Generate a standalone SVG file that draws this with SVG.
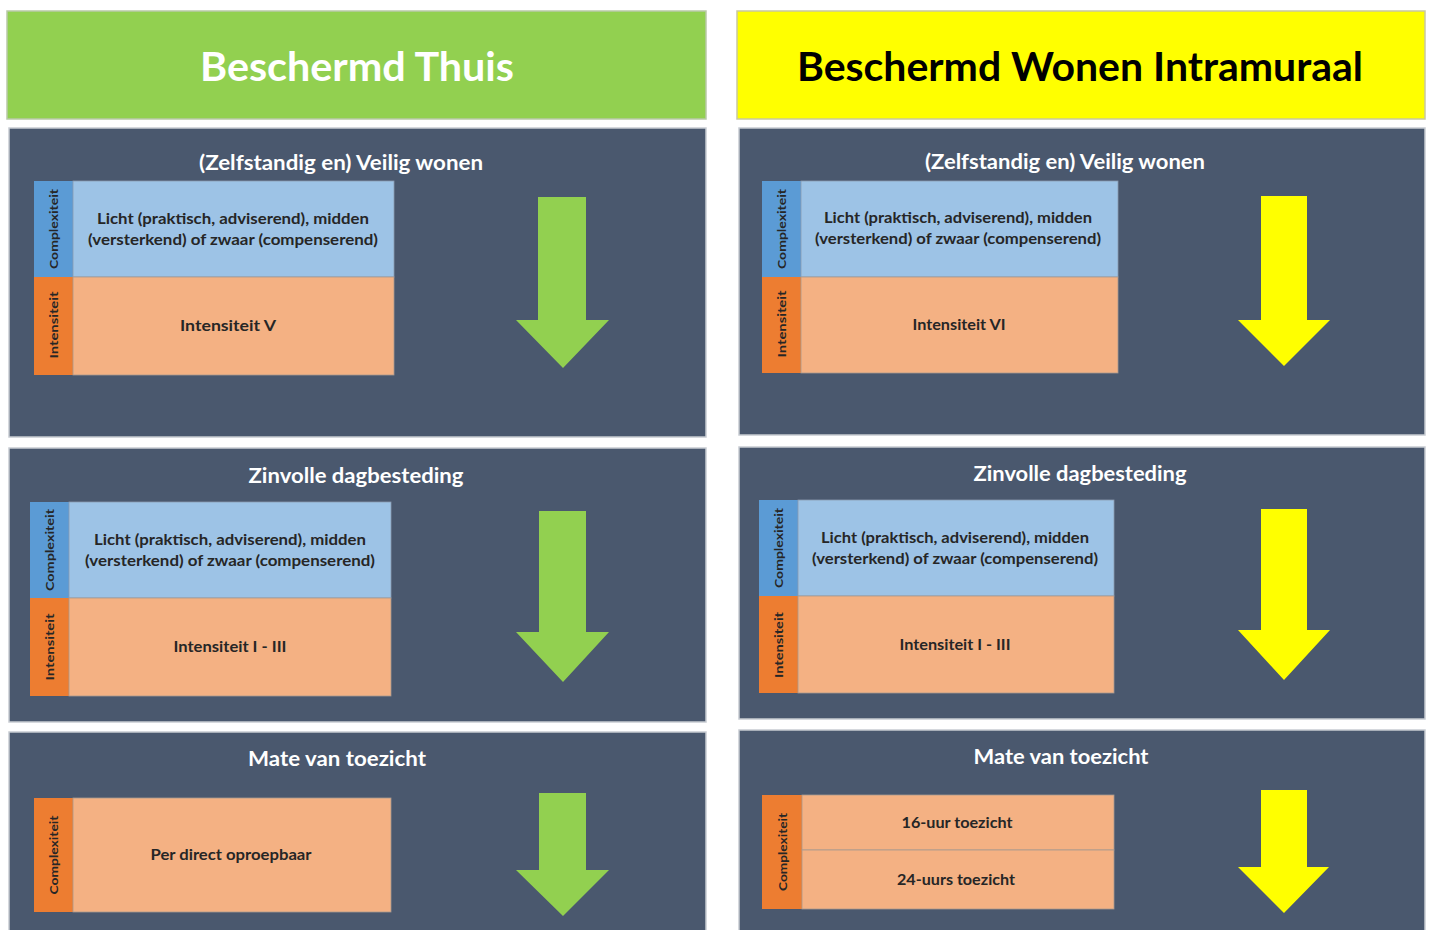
<svg xmlns="http://www.w3.org/2000/svg" width="1429" height="930" viewBox="0 0 1429 930">
<style>
.hdrG{fill:#92d050;stroke:#b9c9a8;stroke-width:1.5}
.hdrY{fill:#ffff00;stroke:#c9c9a0;stroke-width:1.5}
.hdrtxt{font-family:Lato,"Liberation Sans",sans-serif;font-weight:bold;font-size:40px;text-anchor:middle}
.panel{fill:#4a586e;stroke:#c8ccd2;stroke-width:1.5}
.ptitle{font-family:Lato,"Liberation Sans",sans-serif;font-weight:bold;font-size:20px;fill:#ffffff;text-anchor:middle}
.blue{fill:#9dc3e6;stroke:#8a9bb0;stroke-width:0.8}
.blueS{fill:#5b9bd5}
.org{fill:#f4b183;stroke:#a79a90;stroke-width:0.8}
.orgS{fill:#ed7d31}
.btxt{font-family:Lato,"Liberation Sans",sans-serif;font-weight:bold;font-size:14.5px;fill:#262626;text-anchor:middle}
.vtxt{font-family:Lato,"Liberation Sans",sans-serif;font-weight:bold;font-size:11px;fill:#262626;text-anchor:middle;dominant-baseline:central}
.arrG{fill:#92d050}
.arrY{fill:#ffff00}
</style>
<rect width="1429" height="930" fill="#ffffff"/>

<g id="header-thuis">
<rect class="hdrG" x="7" y="11" width="699" height="108"/>
<text class="hdrtxt" x="357" y="81" fill="#ffffff" textLength="314" lengthAdjust="spacingAndGlyphs">Beschermd Thuis</text>
</g>
<g id="header-intramuraal">
<rect class="hdrY" x="737" y="11" width="688" height="108"/>
<text class="hdrtxt" x="1080" y="81" fill="#000000" textLength="566" lengthAdjust="spacingAndGlyphs">Beschermd Wonen Intramuraal</text>
</g>

<!-- Left column -->
<g id="panel-l1">
<rect class="panel" x="9" y="128" width="697" height="309"/>
<text class="ptitle" x="341" y="170" textLength="284" lengthAdjust="spacingAndGlyphs">(Zelfstandig en) Veilig wonen</text>
<rect class="blueS" x="34" y="181" width="39" height="96"/>
<rect class="blue" x="73" y="181" width="321" height="96"/>
<rect class="orgS" x="34" y="277" width="39" height="98"/>
<rect class="org" x="73" y="277" width="321" height="98"/>
<text class="vtxt" transform="translate(53,229) rotate(-90)" textLength="80" lengthAdjust="spacingAndGlyphs">Complexiteit</text>
<text class="vtxt" transform="translate(53,325) rotate(-90)" textLength="67" lengthAdjust="spacingAndGlyphs">Intensiteit</text>
<text class="btxt" x="233" y="224" textLength="272" lengthAdjust="spacingAndGlyphs">Licht (praktisch, adviserend), midden</text>
<text class="btxt" x="233" y="245" textLength="290" lengthAdjust="spacingAndGlyphs">(versterkend) of zwaar (compenserend)</text>
<text class="btxt" x="228" y="331" textLength="96" lengthAdjust="spacingAndGlyphs">Intensiteit  V</text>
</g>

<g id="panel-l2">
<rect class="panel" x="9" y="448" width="697" height="274"/>
<text class="ptitle" x="356" y="483" textLength="215" lengthAdjust="spacingAndGlyphs">Zinvolle dagbesteding</text>
<rect class="blueS" x="30" y="502" width="39" height="96"/>
<rect class="blue" x="69" y="502" width="322" height="96"/>
<rect class="orgS" x="30" y="598" width="39" height="98"/>
<rect class="org" x="69" y="598" width="322" height="98"/>
<text class="vtxt" transform="translate(49,550) rotate(-90)" textLength="82" lengthAdjust="spacingAndGlyphs">Complexiteit</text>
<text class="vtxt" transform="translate(49,647) rotate(-90)" textLength="67" lengthAdjust="spacingAndGlyphs">Intensiteit</text>
<text class="btxt" x="230" y="545" textLength="272" lengthAdjust="spacingAndGlyphs">Licht (praktisch, adviserend), midden</text>
<text class="btxt" x="230" y="566" textLength="290" lengthAdjust="spacingAndGlyphs">(versterkend) of zwaar (compenserend)</text>
<text class="btxt" x="230" y="652" textLength="113" lengthAdjust="spacingAndGlyphs">Intensiteit I - III</text>
</g>

<g id="panel-l3">
<rect class="panel" x="9" y="732" width="697" height="205"/>
<text class="ptitle" x="337" y="766" textLength="178" lengthAdjust="spacingAndGlyphs">Mate van toezicht</text>
<rect class="orgS" x="34" y="798" width="39" height="114"/>
<rect class="org" x="73" y="798" width="318" height="114"/>
<text class="vtxt" transform="translate(53,855) rotate(-90)" textLength="79" lengthAdjust="spacingAndGlyphs">Complexiteit</text>
<text class="btxt" x="231" y="860" textLength="161" lengthAdjust="spacingAndGlyphs">Per direct oproepbaar</text>
</g>

<!-- Right column -->
<g id="panel-r1">
<rect class="panel" x="739" y="128" width="686" height="307"/>
<text class="ptitle" x="1065" y="169" textLength="280" lengthAdjust="spacingAndGlyphs">(Zelfstandig en) Veilig wonen</text>
<rect class="blueS" x="762" y="181" width="39" height="96"/>
<rect class="blue" x="801" y="181" width="317" height="96"/>
<rect class="orgS" x="762" y="277" width="39" height="96"/>
<rect class="org" x="801" y="277" width="317" height="96"/>
<text class="vtxt" transform="translate(781,229) rotate(-90)" textLength="80" lengthAdjust="spacingAndGlyphs">Complexiteit</text>
<text class="vtxt" transform="translate(781,324) rotate(-90)" textLength="67" lengthAdjust="spacingAndGlyphs">Intensiteit</text>
<text class="btxt" x="958" y="223" textLength="268" lengthAdjust="spacingAndGlyphs">Licht (praktisch, adviserend), midden</text>
<text class="btxt" x="958" y="244" textLength="286" lengthAdjust="spacingAndGlyphs">(versterkend) of zwaar (compenserend)</text>
<text class="btxt" x="959" y="330" textLength="93" lengthAdjust="spacingAndGlyphs">Intensiteit VI</text>
</g>

<g id="panel-r2">
<rect class="panel" x="739" y="447" width="686" height="272"/>
<text class="ptitle" x="1080" y="481" textLength="213" lengthAdjust="spacingAndGlyphs">Zinvolle dagbesteding</text>
<rect class="blueS" x="759" y="500" width="39" height="96"/>
<rect class="blue" x="798" y="500" width="316" height="96"/>
<rect class="orgS" x="759" y="596" width="39" height="97"/>
<rect class="org" x="798" y="596" width="316" height="97"/>
<text class="vtxt" transform="translate(778,548) rotate(-90)" textLength="80" lengthAdjust="spacingAndGlyphs">Complexiteit</text>
<text class="vtxt" transform="translate(778,645) rotate(-90)" textLength="66" lengthAdjust="spacingAndGlyphs">Intensiteit</text>
<text class="btxt" x="955" y="543" textLength="268" lengthAdjust="spacingAndGlyphs">Licht (praktisch, adviserend), midden</text>
<text class="btxt" x="955" y="564" textLength="286" lengthAdjust="spacingAndGlyphs">(versterkend) of zwaar (compenserend)</text>
<text class="btxt" x="955" y="650" textLength="111" lengthAdjust="spacingAndGlyphs">Intensiteit I - III</text>
</g>

<g id="panel-r3">
<rect class="panel" x="739" y="730" width="686" height="207"/>
<text class="ptitle" x="1061" y="764" textLength="175" lengthAdjust="spacingAndGlyphs">Mate van toezicht</text>
<rect class="orgS" x="762" y="795" width="40" height="114"/>
<rect class="org" x="802" y="795" width="312" height="55"/>
<rect class="org" x="802" y="850" width="312" height="59"/>
<text class="vtxt" transform="translate(782,852) rotate(-90)" textLength="78" lengthAdjust="spacingAndGlyphs">Complexiteit</text>
<text class="btxt" x="957" y="828" textLength="111" lengthAdjust="spacingAndGlyphs">16-uur toezicht</text>
<text class="btxt" x="956" y="885" textLength="118" lengthAdjust="spacingAndGlyphs">24-uurs toezicht</text>
</g>

<g id="connectors">
<polygon class="arrG" points="538,197 586,197 586,320 609,320 563,368 516,320 538,320"/>
<polygon class="arrG" points="539,511 586,511 586,632 609,632 563,682 516,632 539,632"/>
<polygon class="arrG" points="539,793 586,793 586,870 609,870 563,916 516,870 539,870"/>
<polygon class="arrY" points="1261,196 1307,196 1307,320 1330,320 1284,366 1238,320 1261,320"/>
<polygon class="arrY" points="1261,509 1307,509 1307,630 1330,630 1284,680 1238,630 1261,630"/>
<polygon class="arrY" points="1261,790 1307,790 1307,867 1329,867 1284,913 1238,867 1261,867"/>
</g>
</svg>
